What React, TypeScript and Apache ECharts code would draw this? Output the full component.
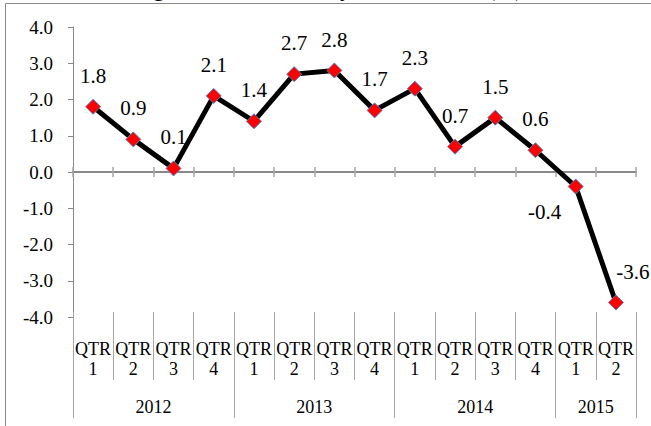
import React, { useEffect, useRef } from "react";
import * as echarts from "echarts";

const titleText = "Nigeria GDP Quarterly Growth Rate (%)";
const quarterLabels = [
  "QTR\n1", "QTR\n2", "QTR\n3", "QTR\n4",
  "QTR\n1", "QTR\n2", "QTR\n3", "QTR\n4",
  "QTR\n1", "QTR\n2", "QTR\n3", "QTR\n4",
  "QTR\n1", "QTR\n2",
];
const years = ["2012", "2013", "2014", "2015"];
const quartersPerYear = [4, 4, 4, 2];
const growth = [1.8, 0.9, 0.1, 2.1, 1.4, 2.7, 2.8, 1.7, 2.3, 0.7, 1.5, 0.6, -0.4, -3.6];
const yTicks = { min: -4, max: 4, interval: 1 };

const FONT = "Liberation Serif, serif";
const AXIS_GRAY = "#898989";
const SEP_GRAY = "#A6A6A6";

export default function App() {
  const ref = useRef<HTMLDivElement>(null);
  useEffect(() => {
    document.body.style.margin = "0";
    if (!ref.current) return;
    const chart = echarts.init(ref.current, undefined, { renderer: "svg" });

    const yearBounds: number[] = [0];
    quartersPerYear.forEach((n, i) => yearBounds.push(yearBounds[i] + n));
    const yearMids = years.map((_, i) => (yearBounds[i] + yearBounds[i + 1]) / 2);
    const total = yearBounds[yearBounds.length - 1];

    const labelOffsets: Record<number, number[]> = {
      12: [-31, 25],
      13: [17, -31],
    };

    const grid = { left: 73, right: 15, top: 27, bottom: 109 };

    chart.setOption({
      animation: false,
      graphic: [
        {
          type: "rect",
          silent: true,
          shape: { x: 5.5, y: 3.5, width: 800, height: 600 },
          style: { fill: "none", stroke: AXIS_GRAY, lineWidth: 1 },
        },
        {
          type: "text",
          silent: true,
          x: 326,
          y: 0,
          style: {
            text: titleText,
            fontSize: 24,
            fontFamily: FONT,
            fill: "#000",
            align: "center",
            verticalAlign: "bottom",
          },
        },
      ],
      grid: [grid, grid],
      yAxis: [
        {
          type: "value",
          gridIndex: 0,
          ...yTicks,
          axisLine: { show: true, lineStyle: { color: AXIS_GRAY, width: 1 } },
          axisTick: { show: true, length: 5, lineStyle: { color: AXIS_GRAY } },
          axisLabel: {
            color: "#000",
            fontFamily: FONT,
            fontSize: 19,
            margin: 20,
            formatter: (v: number) => v.toFixed(1),
          },
          splitLine: { show: false },
        },
        {
          type: "value",
          gridIndex: 1,
          ...yTicks,
          show: false,
        },
      ],
      xAxis: [
        {
          type: "category",
          gridIndex: 0,
          data: quarterLabels,
          boundaryGap: true,
          axisLine: { onZero: true, lineStyle: { color: AXIS_GRAY, width: 2 } },
          axisTick: { show: true, length: 5, lineStyle: { color: SEP_GRAY, width: 1.5 } },
          axisLabel: { show: false },
          splitLine: { show: false },
        },
        {
          type: "category",
          gridIndex: 0,
          data: quarterLabels,
          position: "bottom",
          offset: -5,
          boundaryGap: true,
          axisLine: { show: false, onZero: false },
          axisTick: { show: true, length: 68, lineStyle: { color: SEP_GRAY, width: 1 } },
          axisLabel: {
            color: "#000",
            fontFamily: FONT,
            fontSize: 18,
            lineHeight: 20,
            margin: 27,
            interval: 0,
          },
          splitLine: { show: false },
        },
        {
          type: "value",
          gridIndex: 0,
          position: "bottom",
          offset: -5,
          min: 0,
          max: total,
          axisLine: { show: false, onZero: false },
          axisTick: {
            show: true,
            length: 106,
            customValues: yearBounds,
            lineStyle: { color: SEP_GRAY, width: 1 },
          },
          axisLabel: {
            color: "#000",
            fontFamily: FONT,
            fontSize: 18,
            lineHeight: 20,
            margin: 85,
            customValues: yearMids,
            formatter: (v: number) => {
              const idx = yearMids.findIndex((m) => Math.abs(m - v) < 1e-6);
              return idx >= 0 ? years[idx] : "";
            },
          },
          splitLine: { show: false },
        },
        {
          type: "category",
          gridIndex: 1,
          data: quarterLabels,
          boundaryGap: true,
          axisLine: { onZero: true, lineStyle: { color: AXIS_GRAY, width: 2 } },
          axisTick: { show: true, inside: true, length: 5, lineStyle: { color: SEP_GRAY, width: 1.5 } },
          axisLabel: { show: false },
          splitLine: { show: false },
        },
      ],
      series: [
        {
          type: "line",
          xAxisIndex: 0,
          yAxisIndex: 0,
          data: growth.map((v, i) => ({
            value: v,
            label: { offset: labelOffsets[i] || [0, -31] },
          })),
          lineStyle: { color: "#000", width: 5 },
          symbol: "diamond",
          symbolSize: 15,
          itemStyle: { color: "#FF0000", borderColor: "#4F81BD", borderWidth: 1 },
          label: {
            show: true,
            position: "inside",
            color: "#000",
            fontFamily: FONT,
            fontSize: 21,
            formatter: (p: any) => (p.value as number).toFixed(1),
          },
          z: 5,
        },
      ],
    });
    return () => chart.dispose();
  }, []);
  return <div ref={ref} style={{ width: 651, height: 426 }} />;
}
